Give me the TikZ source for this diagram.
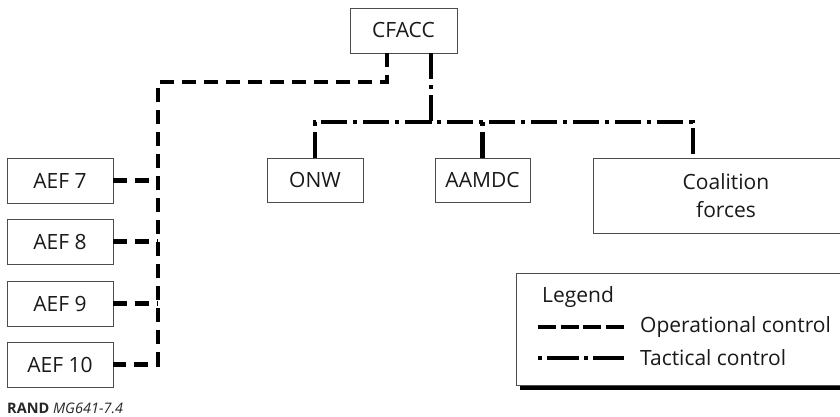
\documentclass[tikz,border=0pt]{standalone}
\usepackage{fontspec}
\setmainfont{Open Sans}
\begin{document}
\begin{tikzpicture}[x=1pt,y=-1pt,
  box/.style={draw=black!70,line width=0.9pt,rectangle,inner sep=0pt,text=black!90,font=\fontsize{21}{28}\selectfont,align=center},
  opline/.style={line width=4.4pt,dash pattern=on 14pt off 8pt},
  tacline/.style={line width=4.4pt,dash pattern=on 26pt off 6pt on 4pt off 6pt},
  legtext/.style={anchor=west,inner sep=0pt,text=black!90,font=\fontsize{21}{26}\selectfont}]
\useasboundingbox (0,0) rectangle (840,417);
\clip (0,0) rectangle (840,417);
% boxes
\node[box,minimum width=107pt,minimum height=45pt] (cfacc) at (403.5,30.5) {CFACC};
\node[box,minimum width=96pt,minimum height=44pt] (onw) at (315,180) {ONW};
\node[box,minimum width=95pt,minimum height=44pt] (aamdc) at (482.5,180) {AAMDC};
\node[box,minimum width=266pt,minimum height=75pt] (coal) at (726,195.5) {Coalition\\forces};
\node[box,minimum width=106pt,minimum height=45pt] (aef7) at (60,180.5) {AEF 7};
\node[box,minimum width=106pt,minimum height=45pt] (aef8) at (60,241.5) {AEF 8};
\node[box,minimum width=106pt,minimum height=45pt] (aef9) at (60,303.5) {AEF 9};
\node[box,minimum width=106pt,minimum height=45pt] (aef10) at (60,364.5) {AEF 10};
% operational control
\coordinate (opx) at (387,0);
\coordinate (ojoin) at (158,82);
\draw[opline] (cfacc.south -| opx) |- (ojoin) -- (ojoin |- aef10.east) -- (aef10.east);
\draw[opline] (aef7.east) -- (aef7.east -| ojoin);
\draw[opline] (aef8.east) -- (aef8.east -| ojoin);
\draw[opline] (aef9.east) -- (aef9.east -| ojoin);
% tactical control
\coordinate (tx) at (431,122);
\coordinate (cx) at (693,0);
\draw[tacline] (cfacc.south -| tx) -- (tx);
\draw[tacline] (onw.north) |- (tx) -| (coal.north -| cx);
\draw[tacline] (aamdc.north) -- (aamdc.north |- tx);
% legend
\fill[black] (520,277) rectangle (870,390);
\node[draw=black!70,line width=0.9pt,fill=white,rectangle,minimum width=340pt,minimum height=112pt,inner sep=0pt,anchor=north west] (leg) at (516,273) {};
\node[legtext] (legt) at (542,297) {Legend};
\coordinate (l1a) at (538,327);
\coordinate (l1b) at (624,327);
\coordinate (l2a) at (538,358);
\coordinate (l2b) at (624,358);
\draw[line width=4.4pt,dash pattern=on 18pt off 4.5pt] (l1a) -- (l1b);
\draw[line width=4.4pt,dash pattern=on 4pt off 5pt on 31.5pt off 5pt] (l2a) -- (l2b);
\node[legtext] (op) at (640,327) {Operational control};
\node[legtext] (tac) at (640,358) {Tactical control};
% credit
\node[anchor=west,inner sep=0pt,font=\fontsize{14.5}{17}\selectfont,text=black!85] (rand) at (7,408) {\textbf{RAND} \textit{MG641-7.4}};
\end{tikzpicture}
\end{document}
